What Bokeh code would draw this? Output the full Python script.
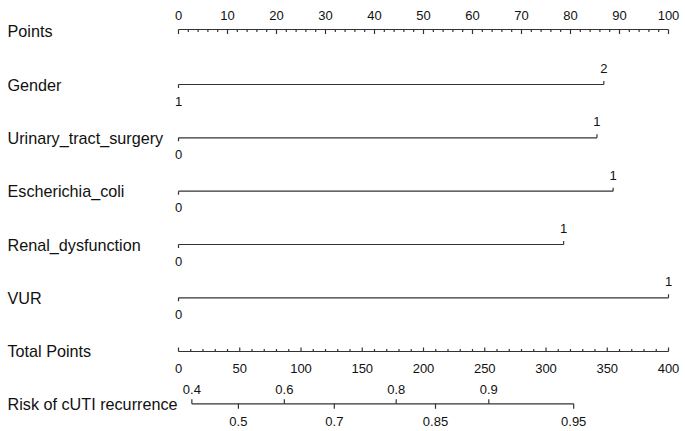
from bokeh.plotting import figure
from bokeh.models import Range1d
from bokeh.core.properties import value
from bokeh.embed import file_html
from bokeh.resources import INLINE

# ---------------- data ----------------
points_ticks = [0, 10, 20, 30, 40, 50, 60, 70, 80, 90, 100]
points_minor = list(range(0, 101, 2))

variables = ["Gender", "Urinary_tract_surgery", "Escherichia_coli", "Renal_dysfunction", "VUR"]
level_low_labels = ["1", "0", "0", "0", "0"]
level_high_labels = ["2", "1", "1", "1", "1"]
level_low_points = [0, 0, 0, 0, 0]
level_high_points = [86.8, 85.4, 88.7, 78.6, 100]

total_ticks = [0, 50, 100, 150, 200, 250, 300, 350, 400]
total_minor = list(range(0, 401, 10))
total_max = 400

risk_upper_labels = ["0.4", "0.6", "0.8", "0.9"]
risk_upper_total = [10.9, 86.4, 177.7, 253.3]
risk_lower_labels = ["0.5", "0.7", "0.85", "0.95"]
risk_lower_total = [48.9, 127.2, 209.8, 322.6]

# ---------------- layout ----------------
W, H = 685, 431
PX_PER_PT = 4.9
X0_IMG = 178          # x of 0 points
LABEL_X_IMG = 7
y_points = 29
y_rows = [84, 137.3, 190.7, 244, 297.3]
y_total = 351
y_risk = 403.3

FONT = value("Liberation Sans")
LINE_COL = "#333333"
TXT_COL = "#111111"

def to_x(img_x):
    return (img_x - X0_IMG) / PX_PER_PT

p = figure(width=W, height=H, output_backend="svg", toolbar_location=None,
           x_range=Range1d(to_x(0), to_x(W)),
           y_range=Range1d(H, 0),
           min_border=0, x_axis_location=None, y_axis_location=None)
p.grid.visible = False
p.outline_line_color = None
p.background_fill_color = "white"
p.border_fill_color = "white"

label_x = to_x(LABEL_X_IMG)

def row_label(text, y):
    p.text(x=[label_x], y=[y], text=[text], text_font=FONT, text_font_size="16.2px",
           text_color=TXT_COL, text_align="left", text_baseline="middle")

def tick_labels(xs, labels, y):
    p.text(x=xs, y=[y] * len(xs), text=labels, text_font=FONT, text_font_size="13px",
           text_color=TXT_COL, text_align="center", text_baseline="middle")

def ticks(xs, y, length):
    p.segment(x0=xs, y0=[y] * len(xs), x1=xs, y1=[y + length] * len(xs),
              line_color=LINE_COL, line_width=1.2)

def hline(xa, xb, y):
    p.segment(x0=[xa], y0=[y], x1=[xb], y1=[y], line_color=LINE_COL, line_width=1.2)

# Points axis
row_label("Points", 30.5)
hline(points_ticks[0], points_ticks[-1], y_points)
ticks([t for t in points_minor if t % 10 != 0], y_points, 2.5)
ticks(points_ticks, y_points, 4.5)
tick_labels(points_ticks, [str(t) for t in points_ticks], 15)

# Variable rows
for name, lo_l, hi_l, lo_p, hi_p, y in zip(variables, level_low_labels, level_high_labels,
                                           level_low_points, level_high_points, y_rows):
    row_label(name, y)
    hline(lo_p, hi_p, y)
    ticks([lo_p], y, 3.5)
    ticks([hi_p], y, -3.5)
    tick_labels([lo_p], [lo_l], y + 16.5)
    tick_labels([hi_p], [hi_l], y - 16)

# Total points axis
scale = points_ticks[-1] / total_max
row_label("Total Points", 350.5)
tx = [t * scale for t in total_ticks]
hline(tx[0], tx[-1], y_total)
ticks([t * scale for t in total_minor if t % 50 != 0], y_total, -2.5)
ticks(tx, y_total, -4)
tick_labels(tx, [str(t) for t in total_ticks], 367.5)

# Risk axis
row_label("Risk of cUTI recurrence", 403.5)
ux = [t * scale for t in risk_upper_total]
lx = [t * scale for t in risk_lower_total]
hline(min(ux + lx), max(ux + lx), y_risk)
ticks(ux, y_risk, -4.5)
ticks(lx, y_risk, 5)
tick_labels(ux, risk_upper_labels, 388.5)
tick_labels(lx, risk_lower_labels, 420.5)

open("out.html", "w").write(file_html(p, INLINE))
